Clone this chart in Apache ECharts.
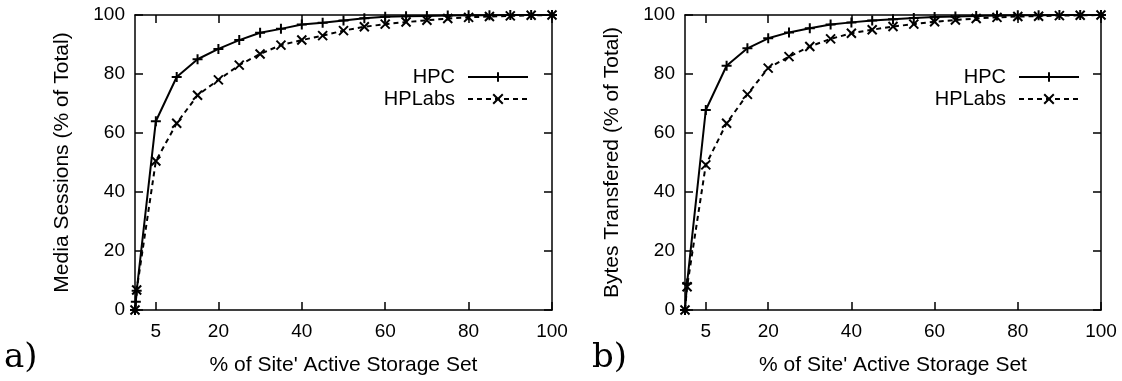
<!DOCTYPE html>
<html>
<head>
<meta charset="utf-8">
<script src="https://cdn.jsdelivr.net/npm/echarts@6/dist/echarts.min.js"></script>
<style>html,body{margin:0;padding:0;background:#fff}#c{width:1122px;height:381px}</style>
</head>
<body>
<div id="c"></div>
<script>
// ---- data ----
const xTicks = [5, 20, 40, 60, 80, 100];
const yTicks = [0, 20, 40, 60, 80, 100];
const xVals = [0, 5, 10, 15, 20, 25, 30, 35, 40, 45, 50, 55, 60, 65, 70, 75, 80, 85, 90, 95, 100];
// panel a: Media Sessions
const aHPCStart = [[0, 0], [0.2, 2.8], [0.4, 6.5]];
const aHPC = [64, 79, 85, 88.5, 91.5, 94, 95.3, 96.8, 97.4, 98.1, 98.9, 99.4, 99.6, 99.7, 99.8, 99.9, 99.9, 100, 100, 100];
const aLabsStart = [[0, 0], [0.4, 6.8]];
const aLabs = [50.5, 63.3, 72.8, 78, 83, 86.8, 89.8, 91.5, 93, 94.7, 96, 96.9, 97.6, 98.2, 98.8, 99.2, 99.5, 99.7, 99.9, 100];
// panel b: Bytes Transfered
const bHPCStart = [[0, 0], [0.5, 9]];
const bHPC = [67.8, 82.8, 88.7, 92.1, 94.1, 95.5, 96.8, 97.5, 98.1, 98.6, 99, 99.3, 99.5, 99.7, 99.8, 99.9, 99.9, 100, 100, 100];
const bLabsStart = [[0, 0], [0.5, 7.9]];
const bLabs = [49.2, 63.3, 73.1, 82, 85.9, 89.3, 91.9, 93.8, 95, 96.1, 96.9, 97.7, 98.3, 98.8, 99.2, 99.5, 99.6, 99.8, 99.9, 100];
const seriesNames = ['HPC', 'HPLabs'];
const panelLabels = ['a)', 'b)'];
const yTitles = ['Media Sessions (% of Total)', 'Bytes Transfered (% of Total)'];
const xTitle = "% of Site' Active Storage Set";

function pts(start, vals) {
  return start.concat(vals.map((v, i) => [xVals[i + 1], v]));
}

const FONT = 'Liberation Sans, Arial, sans-serif';
const PLUS = 'path://M0,5L10,5M5,0L5,10';
const CROSS = 'path://M0,0L10,10M10,0L0,10';

const grids = [
  { left: 135, right: 570, top: 15, bottom: 71 },
  { left: 685, right: 21, top: 15, bottom: 71 }
];

const xAxis = [], yAxis = [];
grids.forEach((g, i) => {
  xAxis.push({
    type: 'value', gridIndex: i, min: 0, max: 100, position: 'bottom',
    name: xTitle, nameLocation: 'middle', nameGap: 45,
    nameTextStyle: { fontFamily: FONT, fontSize: 21, color: '#000' },
    axisLine: { show: true, lineStyle: { color: '#000', width: 1.5 } },
    axisTick: { show: true, inside: true, length: 8, customValues: xTicks, lineStyle: { color: '#000', width: 1.5 } },
    axisLabel: { show: true, customValues: xTicks, margin: 12, fontFamily: FONT, fontSize: 19, color: '#000' },
    splitLine: { show: false }
  });
  xAxis.push({
    type: 'value', gridIndex: i, min: 0, max: 100, position: 'top',
    axisLine: { show: true, onZero: false, lineStyle: { color: '#000', width: 1.5 } },
    axisTick: { show: true, inside: true, length: 8, customValues: xTicks, lineStyle: { color: '#000', width: 1.5 } },
    axisLabel: { show: false },
    splitLine: { show: false }
  });
  yAxis.push({
    type: 'value', gridIndex: i, min: 0, max: 100, interval: 20, position: 'left',
    name: yTitles[i], nameLocation: 'middle', nameGap: 62, nameRotate: 90,
    nameTextStyle: { fontFamily: FONT, fontSize: 21, color: '#000' },
    axisLine: { show: true, lineStyle: { color: '#000', width: 1.5 } },
    axisTick: { show: true, inside: true, length: 8, lineStyle: { color: '#000', width: 1.5 } },
    axisLabel: { show: true, margin: 10, fontFamily: FONT, fontSize: 19, color: '#000' },
    splitLine: { show: false }
  });
  yAxis.push({
    type: 'value', gridIndex: i, min: 0, max: 100, interval: 20, position: 'right',
    axisLine: { show: true, onZero: false, lineStyle: { color: '#000', width: 1.5 } },
    axisTick: { show: true, inside: true, length: 8, lineStyle: { color: '#000', width: 1.5 } },
    axisLabel: { show: false },
    splitLine: { show: false }
  });
});

function mkSeries(name, data, panel, dashed) {
  return {
    type: 'line', name: name, data: data,
    xAxisIndex: panel * 2, yAxisIndex: panel * 2,
    symbol: dashed ? CROSS : PLUS, symbolSize: dashed ? 9 : 10,
    showSymbol: true, animation: false,
    lineStyle: { color: '#000', width: 2, type: dashed ? [5, 4] : 'solid' },
    itemStyle: { color: '#000', borderColor: '#000', borderWidth: 2 }
  };
}

const series = [
  mkSeries(seriesNames[0], pts(aHPCStart, aHPC), 0, false),
  mkSeries(seriesNames[1], pts(aLabsStart, aLabs), 0, true),
  mkSeries(seriesNames[0], pts(bHPCStart, bHPC), 1, false),
  mkSeries(seriesNames[1], pts(bLabsStart, bLabs), 1, true)
];

const legendCommon = {
  orient: 'vertical', align: 'right', itemWidth: 60, itemHeight: 12, itemGap: 2,
  top: 62, selectedMode: false,
  textStyle: { fontFamily: FONT, fontSize: 20, color: '#000', padding: [0, 8, 0, 0] },
  data: seriesNames
};

const chart = echarts.init(document.getElementById('c'), null, { renderer: 'canvas' });
chart.setOption({
  backgroundColor: '#fff',
  animation: false,
  grid: grids,
  xAxis: xAxis,
  yAxis: yAxis,
  legend: [
    Object.assign({}, legendCommon, { right: 588 }),
    Object.assign({}, legendCommon, { right: 37 })
  ],
  graphic: [
    { type: 'text', left: 4, top: 341, style: { text: panelLabels[0], font: '34px "DejaVu Serif", serif', fill: '#000' } },
    { type: 'text', left: 592, top: 341, style: { text: panelLabels[1], font: '34px "DejaVu Serif", serif', fill: '#000' } }
  ],
  series: series
});
</script>
</body>
</html>
